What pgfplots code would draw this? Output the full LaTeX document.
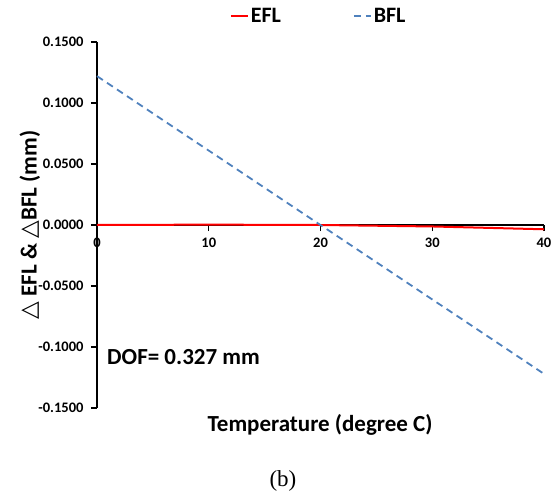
\documentclass[border=0pt]{standalone}
\usepackage{pgfplots}
\pgfplotsset{compat=1.18}
\usepackage{fontspec}
\setmainfont{Carlito}
\newfontfamily\dejavu{DejaVu Sans}
\newfontfamily\tnr{Liberation Serif}
\definecolor{bflblue}{HTML}{4F81BD}
\begin{document}
\begin{tikzpicture}[x=1pt,y=1pt]
\useasboundingbox (-97,-91) rectangle (461,408);
\begin{axis}[
 at={(0,0)}, anchor=south west,
 width=447pt, height=366pt, scale only axis,
 xmin=0,xmax=40,ymin=-0.15,ymax=0.15,
 axis y line*=left, axis x line*=middle,
 axis line style={line width=1.6pt, black},
 hide obscured x ticks=false,
 xtick={0,10,20,30,40}, xticklabels={0,10,20,30,40},
 ytick={-0.15,-0.1,-0.05,0,0.05,0.1,0.15},
 yticklabels={-0.1500,-0.1000,-0.0500,0.0000,0.0500,0.1000,0.1500},
 tick align=outside, major tick length=6pt, tick style={line width=1.2pt, black},
 ticklabel style={font=\bfseries\fontsize{14.5}{16}\selectfont},
 xticklabel style={yshift=-3pt},
 yticklabel style={xshift=-4pt},
 ylabel={{\dejavu △} EFL \& {\dejavu △}BFL (mm)},
 ylabel style={font=\bfseries\fontsize{23}{27}\selectfont, at={(axis description cs:-0.15,0.5)}, anchor=center},
 xlabel={Temperature (degree C)},
 xlabel style={font=\bfseries\fontsize{23}{27}\selectfont, at={(axis description cs:0.499,-0.046)}, anchor=center},
 legend columns=2,
 legend style={at={(0.29,1.071)}, anchor=west, draw=none, fill=none,
   font=\bfseries\fontsize{22}{26}\selectfont,
   /tikz/every even column/.append style={column sep=70pt},
   /tikz/every odd column/.append style={column sep=0pt}},
 legend image code/.code={\draw[#1] (0pt,0pt) -- (17pt,0pt);},
 clip=false,
]
\addplot[red, line width=2pt] coordinates {(0,0) (10,0.0003) (20,0) (30,-0.0012) (40,-0.0035)};
\addlegendentry{EFL}
\addplot[bflblue, line width=1.8pt, dash pattern=on 7pt off 5pt] coordinates {(0,0.122) (10,0.061) (20,0) (30,-0.061) (40,-0.122)};
\addlegendentry{BFL}
\node[anchor=west, font=\bfseries\fontsize{23}{27}\selectfont] at (rel axis cs:0.015,0.139) {DOF= 0.327 mm};
\end{axis}
\node at (186,-73) {\tnr\fontsize{23}{26}\selectfont (b)};
\end{tikzpicture}
\end{document}
